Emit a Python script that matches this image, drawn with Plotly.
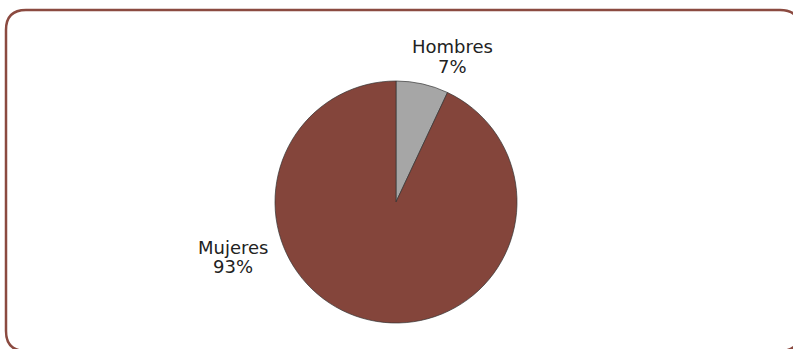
import plotly.graph_objects as go

# Distribución por sexo
categories = ["Hombres", "Mujeres"]
percentages = [7, 93]
slice_colors = ["#A6A6A6", "#84453B"]

W, H = 793, 349
FONT = "DejaVu Sans"

# pie placement (pixels)
cx, cy, r = 396, 202, 121


def px(x):
    return x / W


def py(y):
    return 1 - y / H


fig = go.Figure(
    go.Pie(
        labels=categories,
        values=percentages,
        sort=False,
        direction="clockwise",
        rotation=0,
        marker=dict(colors=slice_colors, line=dict(color="#333333", width=0.7)),
        textinfo="none",
        hoverinfo="label+percent",
        showlegend=False,
        domain=dict(x=[px(cx - r), px(cx + r)], y=[py(cy + r), py(cy - r)]),
    )
)

# label positions: (name centre x, name baseline, percent baseline)
label_pos = {
    "Hombres": (452, 53, 72),
    "Mujeres": (233, 253, 272),
}

annotations = []
for name, val in zip(categories, percentages):
    x, b1, b2 = label_pos[name]
    for text, base in ((name, b1), (f"{val}%", b2)):
        annotations.append(
            dict(
                text=text,
                x=px(x),
                y=py(base - 6),
                xref="paper",
                yref="paper",
                xanchor="center",
                yanchor="middle",
                showarrow=False,
                font=dict(family=FONT, size=18, color="#222222"),
            )
        )

# rounded frame around the chart
L, T, R, B, rad = 6, 10, 800, 351, 20
pts = [
    ("M", [(L + rad, T)]),
    ("L", [(R - rad, T)]),
    ("Q", [(R, T), (R, T + rad)]),
    ("L", [(R, B - rad)]),
    ("Q", [(R, B), (R - rad, B)]),
    ("L", [(L + rad, B)]),
    ("Q", [(L, B), (L, B - rad)]),
    ("L", [(L, T + rad)]),
    ("Q", [(L, T), (L + rad, T)]),
]
path = " ".join(
    cmd + " " + " ".join(f"{px(x):.5f},{py(y):.5f}" for x, y in p) for cmd, p in pts
) + " Z"

fig.update_layout(
    width=W,
    height=H,
    margin=dict(l=0, r=0, t=0, b=0),
    paper_bgcolor="white",
    plot_bgcolor="white",
    annotations=annotations,
    shapes=[
        dict(
            type="path",
            path=path,
            xref="paper",
            yref="paper",
            line=dict(color="#8B4A40", width=2.5),
            fillcolor="rgba(0,0,0,0)",
            layer="below",
        )
    ],
)

fig.write_html("out.html")
